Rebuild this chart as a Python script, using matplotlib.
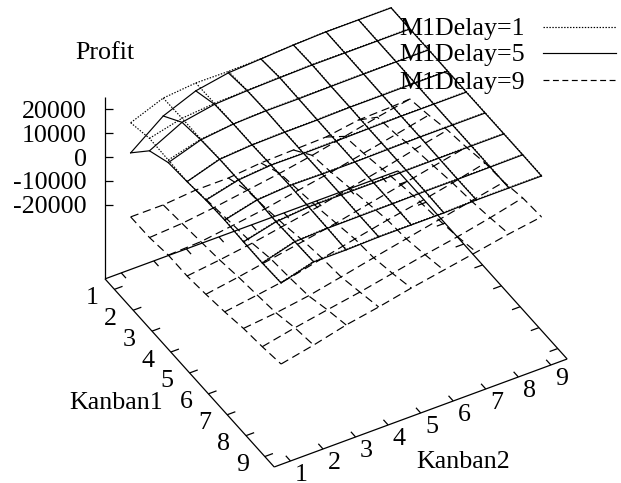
#!/usr/bin/env python3
import numpy as np
import matplotlib
matplotlib.use("Agg")
import matplotlib.pyplot as plt

plt.rcParams['font.family'] = ['Liberation Serif', 'DejaVu Serif']

# Profit at each (Kanban1, Kanban2) setting, rows are Kanban1 = 1..9
kanban = [1, 2, 3, 4, 5, 6, 7, 8, 9]
profit_ticks = [20000, 10000, 0, -10000, -20000]
z_top = 25000
z_base = -51000

delay1 = np.array([
    [16200, 21500, 22800, 22600, 22900, 23700, 24200, 24200, 24200],
    [18400, 21800, 23000, 23500, 23900, 24200, 24200, 24200, 24200],
    [18100, 21800, 23200, 23800, 23800, 24000, 24100, 24200, 24200],
    [17800, 22300, 23300, 23600, 23700, 24000, 24000, 24100, 24100],
    [19000, 22400, 23600, 23500, 23600, 23800, 24000, 24000, 24000],
    [19400, 22800, 23800, 23600, 23600, 23800, 24000, 24000, 24000],
    [19000, 22400, 23600, 23600, 23600, 23800, 23900, 24000, 24000],
    [18900, 22800, 23400, 23500, 23600, 23800, 23800, 23900, 24000],
    [19300, 23100, 23100, 23500, 23500, 23500, 23900, 23900, 23900],
])

delay5 = np.array([
    [3600, 14000, 19500, 22000, 22800, 23600, 24100, 24100, 24100],
    [13200, 20100, 22600, 23300, 23700, 24000, 24000, 24000, 24000],
    [17000, 21500, 23100, 23600, 23600, 23800, 23900, 24000, 24000],
    [17800, 22100, 23100, 23400, 23500, 23800, 23800, 23900, 23900],
    [18800, 22200, 23400, 23300, 23400, 23600, 23800, 23800, 23800],
    [19200, 22600, 23600, 23400, 23400, 23600, 23800, 23800, 23800],
    [18800, 22200, 23400, 23400, 23400, 23600, 23700, 23800, 23800],
    [18700, 22600, 23200, 23300, 23400, 23600, 23600, 23700, 23800],
    [19100, 22900, 22900, 23300, 23300, 23300, 23700, 23700, 23700],
])

delay9 = np.array([
    [-23200, -23200, -22000, -22000, -20700, -20300, -19900, -17800, -17400],
    [-23100, -22200, -20500, -18400, -16300, -13800, -10900, -7900, -5300],
    [-21700, -21100, -19200, -17200, -14600, -12100, -9200, -6300, -3300],
    [-21700, -20000, -18000, -15500, -13000, -10000, -7100, -3800, -800],
    [-20600, -18400, -15900, -13400, -10900, -7900, -5000, -2100, 800],
    [-19200, -17200, -15000, -11900, -8800, -5900, -3300, -400, 2900],
    [-17400, -15900, -13800, -10900, -7900, -5000, -2100, 800, 3700],
    [-16300, -13400, -10900, -8500, -5700, -2900, -400, 2500, 5800],
    [-14800, -11900, -8500, -6000, -3100, -600, 1900, 4500, 6600],
])

legend_labels = ['M1Delay=1', 'M1Delay=5', 'M1Delay=9']

# line styles in units of the line width
DOT = (0, (1.2, 1.3))
DASH = (0, (7, 4))
LW = 0.85


# gnuplot style fixed view, axes run from 0.5 to 9.5 on both kanban axes
def proj(k1, k2, z):
    k1 = np.asarray(k1, dtype=float)
    k2 = np.asarray(k2, dtype=float)
    z = np.asarray(z, dtype=float)
    x = 105 + (k1 - 0.5) * 18.8 + (k2 - 0.5) * 32.55
    y = 157 + (k1 - 0.5) * 20.9 - (k2 - 0.5) * 12 - z * 0.00239
    return x, y


fig = plt.figure(figsize=(6.21, 4.83), dpi=100)
ax = fig.add_axes([0, 0, 1, 1])
ax.set_xlim(0, 621)
ax.set_ylim(483, 0)
ax.axis('off')

K1, K2 = np.meshgrid(kanban, kanban, indexing='ij')


def wire(values, ls):
    x, y = proj(K1, K2, values)
    for i in range(len(kanban)):
        ax.plot(x[i, :], y[i, :], color='k', lw=LW, ls=ls)
        ax.plot(x[:, i], y[:, i], color='k', lw=LW, ls=ls)


wire(delay1, DOT)
wire(delay5, '-')
wire(delay9, DASH)


def seg(a, b):
    x, y = proj([a[0], b[0]], [a[1], b[1]], [a[2], b[2]])
    ax.plot(x, y, color='k', lw=0.9, solid_capstyle='butt')


# base frame and z axis
lo, hi = 0.5, 9.5
seg((lo, lo, z_base), (hi, lo, z_base))
seg((hi, lo, z_base), (hi, hi, z_base))
seg((hi, hi, z_base), (lo, hi, z_base))
seg((lo, hi, z_base), (lo, lo, z_base))
seg((lo, lo, z_base), (lo, lo, z_top))

for k in kanban:
    seg((k, lo, z_base), (k, lo + 0.25, z_base))
    seg((k, hi, z_base), (k, hi - 0.25, z_base))
    seg((lo, k, z_base), (lo + 0.25, k, z_base))
    seg((hi, k, z_base), (hi - 0.25, k, z_base))

    x, y = proj(k, lo, z_base)
    ax.text(x - 22.5, y + 6, str(k), fontsize=18.7, ha='center', va='center_baseline')
    x, y = proj(hi, k, z_base)
    ax.text(x + 11, y + 11.5, str(k), fontsize=18.7, ha='center', va='center_baseline')

x0, _ = proj(lo, lo, 0)
for t in profit_ticks:
    _, y = proj(lo, lo, t)
    ax.plot([x0, x0 + 8], [y, y], color='k', lw=0.9, solid_capstyle='butt')
    ax.text(87, y, str(t), fontsize=18.7, ha='right', va='center_baseline')

ax.text(75, 59, 'Profit', fontsize=18.7, ha='left', va='baseline')
ax.text(69, 409, 'Kanban1', fontsize=18.7, ha='left', va='baseline')
ax.text(416, 468, 'Kanban2', fontsize=18.7, ha='left', va='baseline')

# key
for label, ls, yk in zip(legend_labels, [DOT, '-', (0, (5, 3))], [27, 53, 80]):
    ax.plot([543, 616], [yk, yk], color='k', lw=LW, ls=ls)
    ax.text(525, yk + 8.5, label, fontsize=18.7, ha='right', va='baseline', zorder=5)

fig.savefig('out.png', dpi=100)
